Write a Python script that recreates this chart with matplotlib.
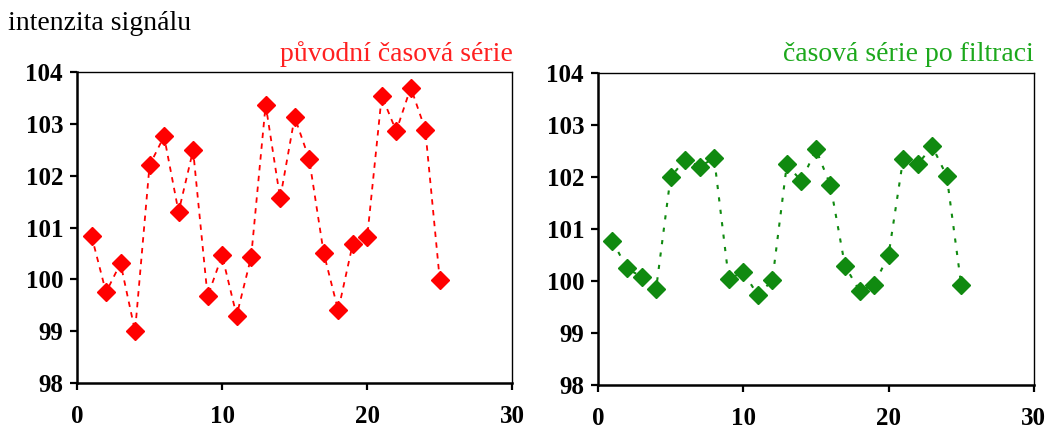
import matplotlib
matplotlib.use("Agg")
import matplotlib.pyplot as plt

x = list(range(1, 26))
original = [100.84, 99.75, 100.31, 99.0, 102.20, 102.76, 101.30, 102.49, 99.67, 100.46,
            99.30, 100.43, 103.37, 101.56, 103.13, 102.32, 100.51, 99.40, 100.68, 100.82,
            103.54, 102.86, 103.70, 102.89, 99.99]
filtered = [100.77, 100.24, 100.08, 99.84, 102.00, 102.33, 102.20, 102.36, 100.04, 100.17,
            99.73, 100.01, 102.24, 101.92, 102.53, 101.84, 100.29, 99.81, 99.92, 100.50,
            102.34, 102.24, 102.59, 102.02, 99.92]
xticks = [0, 10, 20, 30]
yticks = [98, 99, 100, 101, 102, 103, 104]

plt.rcParams['font.family'] = ['Liberation Serif', 'DejaVu Serif']

fig = plt.figure(figsize=(10.49, 4.34), dpi=100)
ax1 = fig.add_axes([0.0734, 0.1175, 0.415, 0.7166])
ax2 = fig.add_axes([0.570, 0.113, 0.4156, 0.719])

def style(ax):
    ax.set_xlim(0, 30)
    ax.set_ylim(98, 104)
    ax.set_xticks(xticks)
    ax.set_yticks(yticks)
    ax.tick_params(direction='out', length=5, width=1.6, labelsize=18)
    ax.tick_params(axis='y', pad=5)
    ax.tick_params(axis='x', pad=11)
    for lab in ax.get_xticklabels() + ax.get_yticklabels():
        lab.set_fontweight('bold')
    for s in ['left', 'bottom']:
        ax.spines[s].set_linewidth(1.8)
    for s in ['top', 'right']:
        ax.spines[s].set_linewidth(1.0)

ax1.plot(x, original, color='#ff0000', linestyle=(0, (3, 3)), linewidth=1.3,
         marker='D', markersize=9.5, markeredgecolor='#ff0000')
ax2.plot(x, filtered, color='#108a10', linestyle=(0, (2, 4)), linewidth=1.5,
         marker='D', markersize=9.5, markeredgecolor='#108a10')
style(ax1)
style(ax2)

fig.text(0.008, 0.945, 'intenzita signálu', fontsize=20, color='black', ha='left', va='center')
fig.text(0.489, 0.875, 'původní časová série', fontsize=20, color='#ff2020', ha='right', va='center')
fig.text(0.986, 0.875, 'časová série po filtraci', fontsize=20, color='#1ca81c', ha='right', va='center')

fig.savefig('out.png', dpi=100)
